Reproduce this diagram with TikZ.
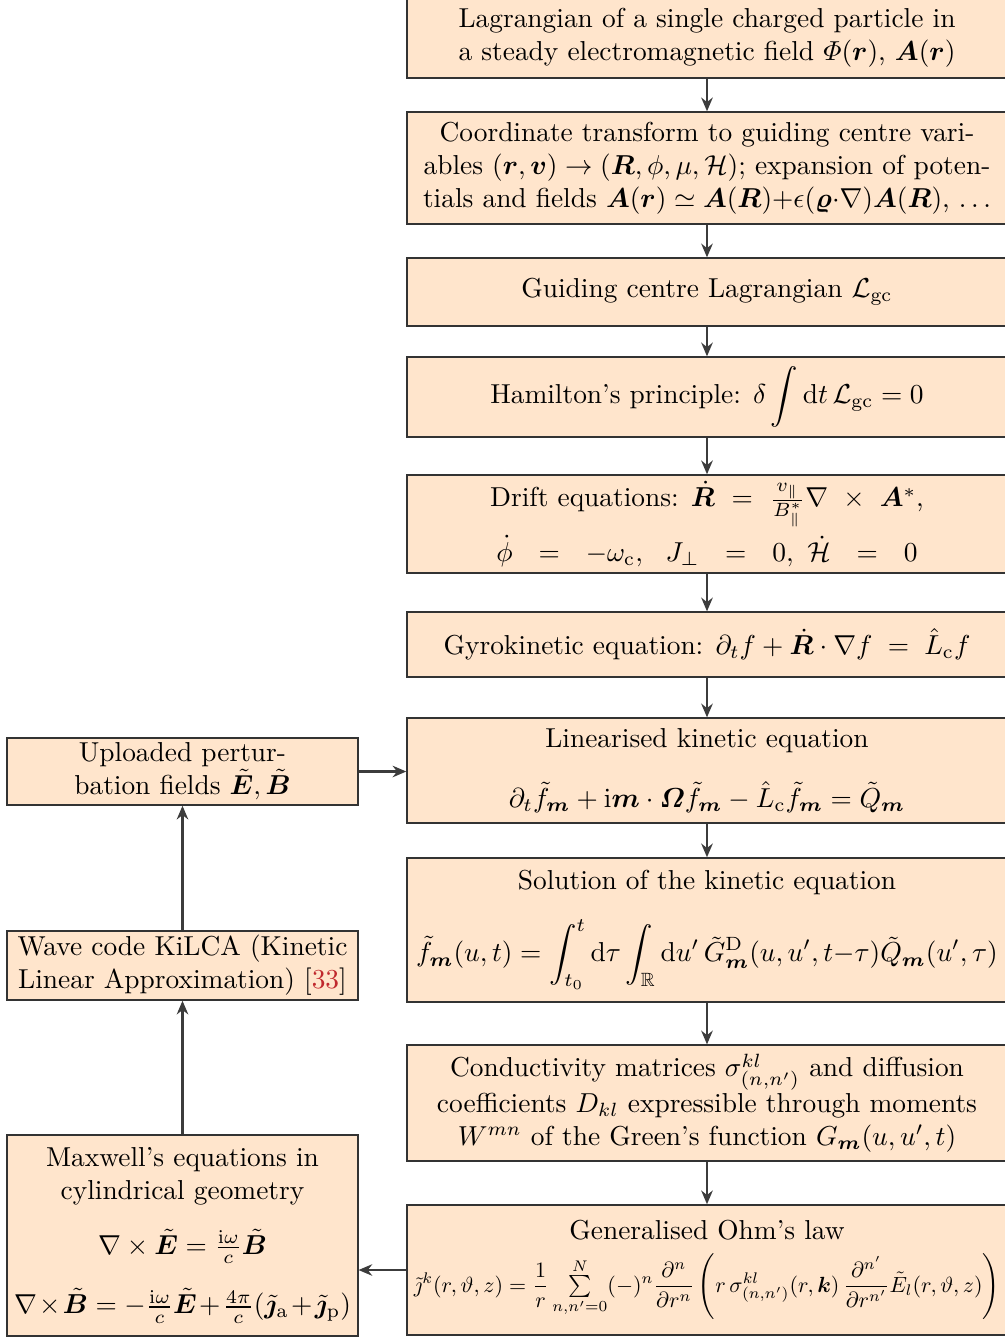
\documentclass[tikz,border=0pt]{standalone}
\usepackage{amsmath,amssymb,bm,graphicx}
\usetikzlibrary{arrows.meta,positioning}
\definecolor{peach}{HTML}{FFE5CC}
\definecolor{arrowgray}{HTML}{3C3C3C}
\definecolor{citered}{HTML}{C0282D}
\begin{document}
\begin{tikzpicture}[x=0.365pt,y=-0.365pt,
  blk/.style={draw=black!80,fill=peach,line width=0.5pt,text width=214pt,
    minimum width=219pt,align=flush center,inner xsep=2.5pt,inner ysep=1.5pt},
  side/.style={draw=black!80,fill=peach,line width=0.5pt,text width=123pt,
    minimum width=128pt,align=flush center,inner xsep=2.5pt,inner ysep=1.5pt},
  a/.style={-{Stealth[length=5pt,width=4.2pt]},line width=0.9pt,arrowgray}]
\useasboundingbox (0,0) rectangle (1005,1339);
\node[blk,minimum height=29.2pt] (lag) at (707,38)
  {Lagrangian of a single charged particle in\\a steady electromagnetic field $\varPhi(\bm r)$, $\bm A(\bm r)$};
\node[blk,minimum height=40.9pt] (gcv) at (707,168)
  {Coordinate transform to guiding centre vari-\\ables $(\bm r,\bm v)\to(\bm R,\phi,\mu,\mathcal H)$; expansion of poten-\\tials and fields $\bm A(\bm r)\simeq\bm A(\bm R){+}\epsilon(\bm\varrho{\cdot}\nabla)\bm A(\bm R)$, $\ldots$};
\node[blk,minimum height=24.8pt] (gcl) at (707,292) {Guiding centre Lagrangian $\mathcal L_{\mathrm{gc}}$};
\node[blk,minimum height=29.2pt] (ham) at (707,397)
  {Hamilton's principle: $\displaystyle\delta\int\mathrm dt\,\mathcal L_{\mathrm{gc}}=0$};
\node[blk,minimum height=35.8pt] (dri) at (707,524)
  {Drift equations: $\dot{\bm R}\ =\ \frac{v_\|}{B^*_\|}\nabla\ \times\ \bm A^*$,\\[2pt]
   $\dot\phi\ \ =\ \ -\omega_{\mathrm c},\ \ J_\perp\ \ =\ \ 0,\ \dot{\mathcal H}\ \ =\ \ 0$};
\node[blk,minimum height=23.7pt] (gyr) at (707,644.5)
  {Gyrokinetic equation: $\partial_t f+\dot{\bm R}\cdot\nabla f\;=\;\hat L_{\mathrm c}f$};
\node[blk,minimum height=38.3pt] (lin) at (707,770.5)
  {Linearised kinetic equation\\[10pt]
   $\partial_t\tilde f_{\bm m}+\mathrm i\bm m\cdot\bm\varOmega\tilde f_{\bm m}-\hat L_{\mathrm c}\tilde f_{\bm m}=\tilde Q_{\bm m}$};
\node[blk,minimum height=52.6pt] (sol) at (707,930)
  {Solution of the kinetic equation\\[8pt]
   $\displaystyle\tilde f_{\bm m}(u,t)=\int_{t_0}^t\mathrm d\tau\int_{\mathbb R}\mathrm du'\,\tilde G^{\mathrm D}_{\bm m}(u,u',t{-}\tau)\tilde Q_{\bm m}(u',\tau)$};
\node[blk,minimum height=42.3pt] (con) at (707,1103)
  {Conductivity matrices $\sigma^{kl}_{(n,n')}$ and diffusion\\coefficients $D_{kl}$ expressible through moments\\$W^{mn}$ of the Green's function $G_{\bm m}(u,u',t)$};
\node[blk,minimum height=47.5pt] (ohm) at (707,1270)
  {Generalised Ohm's law\\[4pt]
   \resizebox{\linewidth}{!}{$\displaystyle\tilde\jmath^k(r,\vartheta,z)=\frac1r\mathop{\textstyle\sum}\limits_{n,n'=0}^{N}(-)^n\frac{\partial^n}{\partial r^n}\left(r\,\sigma^{kl}_{(n,n')}(r,\bm k)\,\frac{\partial^{n'}}{\partial r^{n'}}\tilde E_l(r,\vartheta,z)\right)$}};
% left column
\node[side,minimum height=24.5pt] (upl) at (182.5,771.5)
  {Uploaded pertur-\\bation fields $\tilde{\bm E},\tilde{\bm B}$};
\node[side,minimum height=25.2pt] (kil) at (182.5,965.5)
  {Wave code KiLCA (Kinetic\\Linear Approximation) [\textcolor{citered}{33}]};
\node[side,minimum height=73.4pt] (max) at (182.5,1235.5)
  {Maxwell's equations in\\cylindrical geometry\\[8pt]
   $\nabla\times\tilde{\bm E}=\frac{\mathrm i\omega}{c}\tilde{\bm B}$\\[8pt]
   $\nabla\times\tilde{\bm B}=-\frac{\mathrm i\omega}{c}\tilde{\bm E}+\frac{4\pi}{c}(\tilde{\bm\jmath}_{\mathrm a}+\tilde{\bm\jmath}_{\mathrm p})$};
\draw[a] (lag)--(gcv); \draw[a] (gcv)--(gcl); \draw[a] (gcl)--(ham);
\draw[a] (ham)--(dri); \draw[a] (dri)--(gyr); \draw[a] (gyr)--(lin);
\draw[a] (lin)--(sol); \draw[a] (sol)--(con); \draw[a] (con)--(ohm);
\draw[a] (ohm.west)--(ohm.west -| max.east);
\draw[a] (max)--(kil); \draw[a] (kil)--(upl);
\draw[a] (upl.east)--(upl.east -| lin.west);
\end{tikzpicture}
\end{document}
